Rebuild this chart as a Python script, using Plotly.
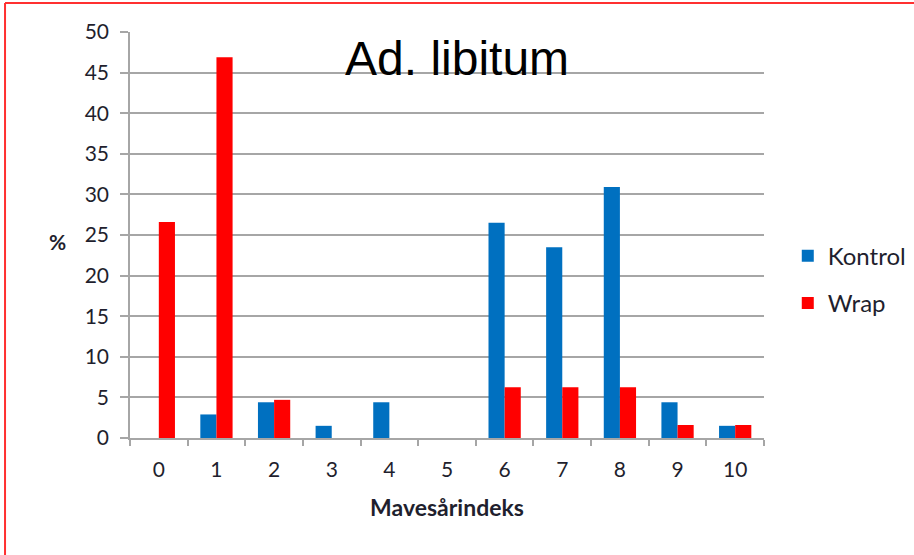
import plotly.graph_objects as go

categories = ['0', '1', '2', '3', '4', '5', '6', '7', '8', '9', '10']
kontrol = [0, 2.9, 4.4, 1.5, 4.4, 0, 26.5, 23.5, 30.9, 4.4, 1.5]
wrap = [26.6, 46.9, 4.7, 0, 0, 0, 6.25, 6.25, 6.25, 1.6, 1.6]
y_ticks = [0, 5, 10, 15, 20, 25, 30, 35, 40, 45, 50]

font_name = 'Lato, Noto Sans, sans-serif'
text_col = '#1f1f2e'
tick_font = dict(family=font_name, size=21, color=text_col)
grid_col = '#a6a6a6'

fig = go.Figure()
fig.add_trace(go.Bar(x=categories, y=kontrol, name='Kontrol',
                     marker=dict(color='#0070c0', line=dict(width=0)),
                     legendgroup='k'))
fig.add_trace(go.Bar(x=categories, y=wrap, name='Wrap',
                     marker=dict(color='#ff0000', line=dict(width=0)),
                     legendgroup='w'))

# paper spans x 130..914 px; the axis itself only covers 130..764 px,
# so the legend sits inside the paper and does not push the margin
fig.update_layout(
    width=914, height=555,
    margin=dict(l=130, r=0, t=32, b=117),
    paper_bgcolor='white', plot_bgcolor='white',
    barmode='group', bargap=0.44, bargroupgap=0,
    showlegend=True,
    legend=dict(x=0.839, y=0.39, xanchor='left', yanchor='middle',
                font=dict(family=font_name, size=24, color=text_col),
                tracegroupgap=13, traceorder='grouped', itemwidth=30),
    xaxis=dict(type='category', domain=[0, 634 / 784], tickfont=tick_font, showgrid=False,
               showline=True, linecolor=grid_col, linewidth=1.5,
               ticks='outside', ticklen=6, tickcolor=grid_col, tickwidth=1.5,
               tickson='boundaries', ticklabelstandoff=12,
               title=dict(text='<b>Mavesårindeks</b>', standoff=20,
                          font=dict(family=font_name, size=23, color=text_col))),
    yaxis=dict(range=[0, 50], tickvals=y_ticks, tickfont=tick_font,
               showgrid=True, gridcolor=grid_col, gridwidth=1.5,
               showline=True, linecolor=grid_col, linewidth=1.5,
               ticks='outside', ticklen=8, tickcolor=grid_col, tickwidth=1.5,
               ticklabelstandoff=7, zeroline=False),
    annotations=[
        dict(text='Ad. libitum', x=0.4175, y=0.935, xref='paper', yref='paper',
             showarrow=False, xanchor='center', yanchor='middle',
             font=dict(family='Liberation Sans, Arial, sans-serif', size=48, color='black')),
        dict(text='<b>%</b>', x=-0.0931, y=0.483, xref='paper', yref='paper',
             showarrow=False, xanchor='center', yanchor='middle',
             font=dict(family=font_name, size=21, color=text_col)),
    ],
    shapes=[
        dict(type='line', xref='paper', yref='paper', x0=-0.1594, x1=-0.1594,
             y0=-0.3, y1=1.0714, line=dict(color='#ff3030', width=2)),
        dict(type='line', xref='paper', yref='paper', x0=-0.1594, x1=1.05,
             y0=1.0714, y1=1.0714, line=dict(color='#ff3030', width=2)),
    ],
)

# drop the browser's default 8px body margin so the figure sits at 0,0
fig.write_html('out.html', config={'displayModeBar': False},
               post_script="document.body.style.margin='0';")
